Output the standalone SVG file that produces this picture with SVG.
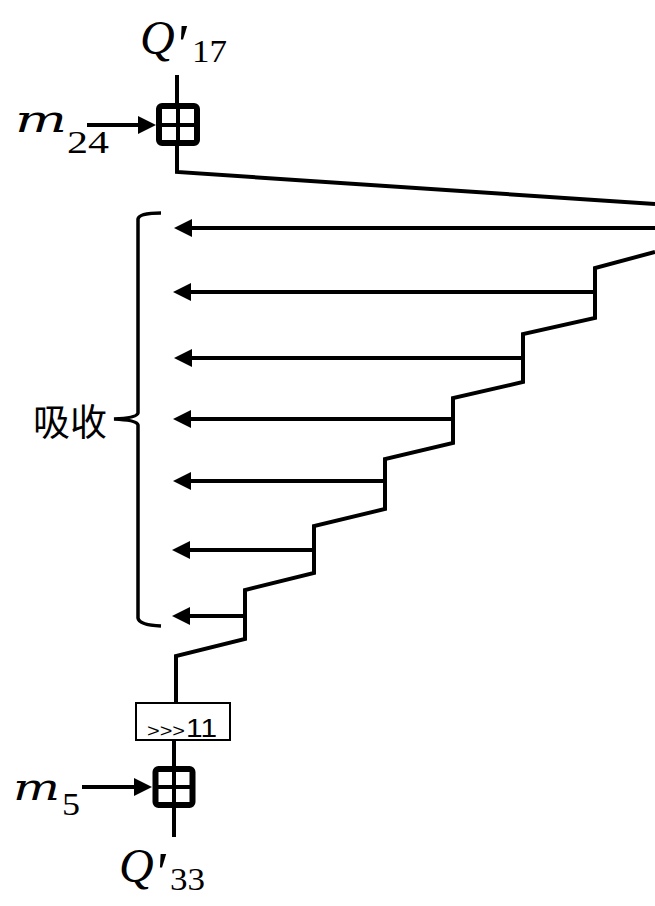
<svg xmlns="http://www.w3.org/2000/svg" width="655" height="906" viewBox="0 0 655 906">
<style>
.w{fill:none;stroke:#000;stroke-width:4;stroke-linejoin:miter}
.arr{fill:none;stroke:#000;stroke-width:4;marker-end:url(#ah)}
.plus{fill:none;stroke:#000;stroke-width:6}
.pl{stroke:#000;stroke-width:4}
.mi{font-family:"DejaVu Serif",serif;font-style:italic;font-size:38px}
.q{font-family:"Liberation Serif",serif;font-style:italic;font-size:48px}
.pr{font-family:"Liberation Serif",serif;font-style:italic;font-size:58px}
.sub{font-family:"Liberation Serif",serif;font-size:31px}
.cjk{font-family:"Noto Sans CJK SC","Noto Sans",sans-serif;font-size:37px}
.rt{font-family:"Liberation Sans",sans-serif}
</style>
<defs>
<marker id="ah" markerUnits="userSpaceOnUse" markerWidth="20" markerHeight="20" refX="8" refY="9" orient="auto">
<path d="M0,0 L18,9 L0,18 z" fill="#000"/>
</marker>
</defs>
<g id="connectors">
<path class="w" d="M177,75 L177,106"/>
<path class="w" d="M177,143 L177,172 L655,204"/>
<path class="w" d="M655,252 L595,268 L595,318 L523,334 L523,382 L453,398 L453,443 L385,459 L385,509 L314,526 L314,573 L245,590 L245,639 L176,656 L176,703"/>
<path class="arr" d="M655,228 L184,228"/>
<path class="arr" d="M595,292 L183,292"/>
<path class="arr" d="M523,358 L184,358"/>
<path class="arr" d="M453,419 L183,419"/>
<path class="arr" d="M385,481 L183,481"/>
<path class="arr" d="M314,550 L182,550"/>
<path class="arr" d="M245,616 L182,616"/>
<path class="arr" d="M87,125 L146,125"/>
<path class="arr" d="M82,787 L142,787"/>
<path class="w" d="M174,740 L174,769"/>
<path class="w" d="M174,805 L174,837"/>
</g>
<g id="brace">
<path d="M161,213 Q139,213 138,219 L138,413 Q137,418 114,419 Q137,420 138,425 L138,618 Q139,625 161,626" fill="none" stroke="#000" stroke-width="3.5"/>
<text class="cjk" x="33" y="436">吸收</text>
</g>
<g id="add-top">
<rect class="plus" x="159" y="106" width="38" height="37" rx="3"/>
<line class="pl" x1="178" y1="106" x2="178" y2="143"/>
<line class="pl" x1="159" y1="125" x2="197" y2="125"/>
</g>
<g id="rot">
<rect x="136" y="703" width="94" height="37" fill="#fff" stroke="#000" stroke-width="2"/>
<text class="rt" x="147" y="737" font-size="19" textLength="38" lengthAdjust="spacingAndGlyphs">&gt;&gt;&gt;</text>
<text class="rt" x="186" y="737" font-size="25" textLength="31" lengthAdjust="spacingAndGlyphs">11</text>
</g>
<g id="add-bottom">
<rect class="plus" x="155.5" y="769" width="37" height="36" rx="3"/>
<line class="pl" x1="174" y1="769" x2="174" y2="805"/>
<line class="pl" x1="155.5" y1="787" x2="192.5" y2="787"/>
</g>
<g id="labels">
<text class="q" x="140" y="54">Q</text>
<text class="pr" x="174" y="64">'</text>
<text class="sub" x="192" y="62" textLength="35" lengthAdjust="spacingAndGlyphs">17</text>
<text class="mi" x="15" y="132" textLength="52" lengthAdjust="spacingAndGlyphs">m</text>
<text class="sub" x="67" y="153" textLength="42" lengthAdjust="spacingAndGlyphs">24</text>
<text class="mi" x="13" y="800" textLength="47" lengthAdjust="spacingAndGlyphs">m</text>
<text class="sub" x="62" y="815" textLength="18" lengthAdjust="spacingAndGlyphs">5</text>
<text class="q" x="119" y="882">Q</text>
<text class="pr" x="153" y="892">'</text>
<text class="sub" x="170" y="890" textLength="35" lengthAdjust="spacingAndGlyphs">33</text>
</g>
</svg>
